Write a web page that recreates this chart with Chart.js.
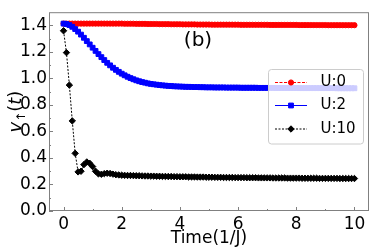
<!DOCTYPE html>
<html><head><meta charset="utf-8">
<script src="https://cdn.jsdelivr.net/npm/chart.js@4.4.1/dist/chart.umd.min.js"></script>
<style>html,body{margin:0;padding:0;background:#fff;}canvas{display:block;}</style>
</head><body>
<canvas id="c" width="374" height="251"></canvas>
<script>
const times = [0.0,0.1,0.2,0.3,0.4,0.5,0.6,0.7,0.8,0.9,1.0,1.1,1.2,1.3,1.4,1.5,1.6,1.7,1.8,1.9,2.0,
2.1,2.2,2.3,2.4,2.5,2.6,2.7,2.8,2.9,3.0,3.1,3.2,3.3,3.4,3.5,3.6,3.7,3.8,3.9,4.0,
4.1,4.2,4.3,4.4,4.5,4.6,4.7,4.8,4.9,5.0,5.1,5.2,5.3,5.4,5.5,5.6,5.7,5.8,5.9,6.0,
6.1,6.2,6.3,6.4,6.5,6.6,6.7,6.8,6.9,7.0,7.1,7.2,7.3,7.4,7.5,7.6,7.7,7.8,7.9,8.0,
8.1,8.2,8.3,8.4,8.5,8.6,8.7,8.8,8.9,9.0,9.1,9.2,9.3,9.4,9.5,9.6,9.7,9.8,9.9,10.0];
const seriesNames = ['U:0','U:2','U:10'];
const u0 = [1.414,1.414,1.414,1.414,1.414,1.414,1.414,1.414,1.414,1.414,1.414,1.414,1.414,1.414,1.414,1.414,1.414,1.414,1.414,1.414,1.414,
1.413,1.413,1.413,1.413,1.412,1.412,1.412,1.412,1.411,1.411,1.411,1.411,1.410,1.410,1.410,1.410,1.409,1.409,1.409,1.409,
1.408,1.408,1.408,1.408,1.408,1.407,1.407,1.407,1.407,1.407,1.406,1.406,1.406,1.406,1.406,1.406,1.406,1.406,1.406,1.406,
1.405,1.405,1.405,1.405,1.405,1.405,1.405,1.405,1.405,1.405,1.404,1.404,1.404,1.404,1.404,1.404,1.404,1.404,1.404,1.404,
1.403,1.403,1.403,1.403,1.403,1.403,1.403,1.403,1.403,1.403,1.402,1.402,1.402,1.402,1.402,1.402,1.402,1.402,1.402,1.402];
const u2 = [1.414,1.411,1.403,1.390,1.373,1.353,1.331,1.307,1.282,1.257,1.232,1.208,1.184,1.161,1.139,1.118,1.099,1.081,1.065,1.050,1.036,
1.024,1.013,1.003,0.994,0.986,0.979,0.973,0.968,0.963,0.959,0.956,0.953,0.950,0.948,0.946,0.944,0.943,0.941,0.940,0.939,
0.938,0.937,0.937,0.936,0.935,0.935,0.934,0.934,0.933,0.933,0.933,0.932,0.932,0.932,0.932,0.931,0.931,0.931,0.931,0.931,
0.930,0.930,0.930,0.930,0.930,0.930,0.929,0.929,0.929,0.929,0.929,0.929,0.928,0.928,0.928,0.928,0.928,0.928,0.928,0.928,
0.927,0.927,0.927,0.927,0.927,0.927,0.927,0.927,0.927,0.927,0.927,0.927,0.927,0.926,0.926,0.926,0.926,0.926,0.926,0.926];
const u10 = [1.360,1.195,0.950,0.680,0.435,0.295,0.300,0.350,0.370,0.360,0.335,0.300,0.280,0.277,0.282,0.285,0.283,0.278,0.274,0.272,0.270,
0.269,0.268,0.268,0.267,0.266,0.266,0.265,0.264,0.264,0.263,0.263,0.262,0.262,0.261,0.261,0.260,0.260,0.259,0.259,0.258,
0.258,0.258,0.257,0.257,0.257,0.256,0.256,0.256,0.255,0.255,0.255,0.254,0.254,0.254,0.253,0.253,0.253,0.253,0.252,0.252,
0.252,0.252,0.251,0.251,0.251,0.251,0.250,0.250,0.250,0.250,0.250,0.249,0.249,0.249,0.249,0.249,0.248,0.248,0.248,0.248,
0.248,0.247,0.247,0.247,0.247,0.247,0.247,0.246,0.246,0.246,0.246,0.246,0.246,0.246,0.245,0.245,0.245,0.245,0.245,0.245];
const xTickLabels = [0,2,4,6,8,10];
const yTickLabels = [0.0,0.2,0.4,0.6,0.8,1.0,1.2,1.4];
const xTitle = 'Time(1/J)';
const panelLabel = '(b)';

const FONT = "'DejaVu Sans', sans-serif";
const colors = ['#ff0000','#0000ff','#000000'];
const styles = ['circle','rect','rectRot'];
const radii = [2.6,3.4,3.2];
const dashes = [[3,1.5],[],[2,1.5]];

function pts(arr){ return times.map((t,i)=>({x:t,y:arr[i]})); }
const allSeries = [u0,u2,u10];

const decor = {
  id:'decor',
  afterDraw(chart){
    const ctx = chart.ctx, a = chart.chartArea;
    const xs = chart.scales.x, ys = chart.scales.y;
    ctx.save();
    ctx.strokeStyle = '#808080';
    ctx.lineWidth = 1;
    ctx.strokeRect(a.left+0.5, a.top+0.5, a.right-a.left-1, a.bottom-a.top-1);
    ctx.beginPath();
    for (let v=0; v<=10; v+=1){
      const px = Math.round(xs.getPixelForValue(v))+0.5;
      const len = (v%2===0)?4:2;
      ctx.moveTo(px, a.bottom); ctx.lineTo(px, a.bottom-len);
    }
    for (let k=0; k<=14; k++){
      const v = k/10;
      const py = Math.round(ys.getPixelForValue(v))+0.5;
      const len = (k%2===0)?4:2;
      ctx.moveTo(a.left, py); ctx.lineTo(a.left+len, py);
    }
    ctx.stroke();

    // panel label
    ctx.fillStyle = '#000';
    ctx.font = '20px ' + FONT;
    ctx.textAlign = 'center'; ctx.textBaseline = 'middle';
    ctx.fillText(panelLabel, 198, 41);

    // x title
    ctx.font = '17px ' + FONT;
    ctx.textBaseline = 'middle';
    ctx.fillText(xTitle, (a.left+a.right)/2, 239);

    // y title v_up(t)
    ctx.save();
    ctx.translate(15, (a.top+a.bottom)/2);
    ctx.rotate(-Math.PI/2);
    const parts = [
      {t:'v', f:'italic 18px '+FONT, dy:0},
      {t:'\u2191', f:'12px '+FONT, dy:4},
      {t:'(', f:'18px '+FONT, dy:0},
      {t:'t', f:'italic 18px '+FONT, dy:0},
      {t:')', f:'18px '+FONT, dy:0}
    ];
    let w = 0;
    parts.forEach(p=>{ ctx.font=p.f; p.w = ctx.measureText(p.t).width; w += p.w; });
    let x0 = -w/2;
    ctx.textAlign='left'; ctx.textBaseline='alphabetic';
    parts.forEach(p=>{ ctx.font=p.f; ctx.fillText(p.t, x0, 6+p.dy); x0 += p.w; });
    ctx.restore();

    // legend
    const lx=268.5, ly=69.5, lw=95, lh=74.5, r=3;
    ctx.beginPath();
    ctx.moveTo(lx+r,ly); ctx.lineTo(lx+lw-r,ly); ctx.arcTo(lx+lw,ly,lx+lw,ly+r,r);
    ctx.lineTo(lx+lw,ly+lh-r); ctx.arcTo(lx+lw,ly+lh,lx+lw-r,ly+lh,r);
    ctx.lineTo(lx+r,ly+lh); ctx.arcTo(lx,ly+lh,lx,ly+lh-r,r);
    ctx.lineTo(lx,ly+r); ctx.arcTo(lx,ly,lx+r,ly,r); ctx.closePath();
    ctx.fillStyle='rgba(255,255,255,0.8)'; ctx.fill();
    ctx.strokeStyle='#cccccc'; ctx.lineWidth=1; ctx.stroke();
    const rows=[82.5,105.5,129];
    seriesNames.forEach((name,i)=>{
      const y=rows[i];
      ctx.save();
      ctx.strokeStyle=colors[i]; ctx.lineWidth=1; ctx.setLineDash(dashes[i]);
      ctx.beginPath(); ctx.moveTo(275,y); ctx.lineTo(307,y); ctx.stroke();
      ctx.restore();
      ctx.fillStyle=colors[i]; ctx.strokeStyle=colors[i];
      Chart.helpers.drawPoint(ctx,{pointStyle:styles[i],radius:radii[i],borderWidth:1},291,y);
      ctx.fillStyle='#000'; ctx.font='15px '+FONT; ctx.textAlign='left'; ctx.textBaseline='middle';
      ctx.fillText(name,320.5,y);
    });
    ctx.restore();
  }
};

new Chart(document.getElementById('c'), {
  type:'line',
  data:{ datasets: allSeries.map((arr,i)=>({
    label: seriesNames[i],
    data: pts(arr),
    borderColor: colors[i],
    backgroundColor: colors[i],
    borderWidth: 1,
    borderDash: dashes[i],
    pointStyle: styles[i],
    pointRadius: radii[i],
    pointBorderWidth: 1,
    pointBorderColor: colors[i],
    pointBackgroundColor: colors[i],
    fill:false,
    tension:0,
    order: [2,1,0][i]
  })) },
  options:{
    responsive:false, animation:false, devicePixelRatio:1,
    layout:{padding:{top:2,right:3,left:0,bottom:0}},
    plugins:{legend:{display:false}, tooltip:{enabled:false}},
    scales:{
      x:{ type:'linear', min:-0.5, max:10.5,
        afterFit(s){ s.height = 40; },
        afterBuildTicks(s){ s.ticks = xTickLabels.map(v=>({value:v})); },
        grid:{display:false, drawTicks:false}, border:{display:false},
        ticks:{ autoSkip:false, maxRotation:0, padding:3, color:'#000', font:{family:FONT,size:17},
          callback:(v)=>String(v) }
      },
      y:{ type:'linear', min:0, max:1.5,
        afterFit(s){ s.width = 49; },
        afterBuildTicks(s){ s.ticks = yTickLabels.map(v=>({value:v})); },
        grid:{display:false, drawTicks:false}, border:{display:false},
        ticks:{ autoSkip:false, padding:2, color:'#000', font:{family:FONT,size:17},
          callback:(v)=>Number(v).toFixed(1) }
      }
    }
  },
  plugins:[decor]
});
</script>
</body></html>
